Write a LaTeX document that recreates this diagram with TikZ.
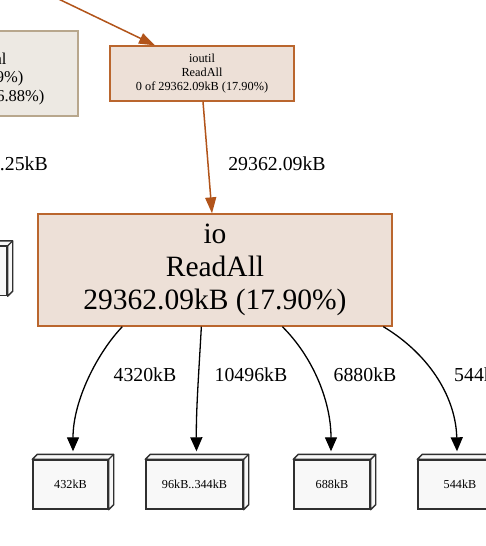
\documentclass[tikz,border=0pt]{standalone}
\usepackage{fontspec}
\setmainfont{Liberation Serif}
\usetikzlibrary{arrows.meta, positioning}
\definecolor{hot}{HTML}{B2541A}
\definecolor{hotline}{HTML}{BA662E}
\definecolor{hotfill}{HTML}{EDE0D7}
\definecolor{coolfill}{HTML}{EDE9E3}
\definecolor{coolline}{HTML}{B8A78D}
\definecolor{cube}{HTML}{303030}
\definecolor{cubefill}{HTML}{F8F8F8}

\begin{document}
\begin{tikzpicture}[
    x=1pt, y=-1pt,
    fnode/.style={draw=hotline, fill=hotfill, line width=1.3pt, align=center,
                  inner sep=0pt},
    cnode/.style={draw=cube, fill=cubefill, line width=1.4pt, inner sep=0pt,
                  minimum height=49pt, font=\fontsize{12.2}{13}\selectfont},
    lab/.style={font=\fontsize{19.8}{21}\selectfont, inner sep=0pt},
    hotedge/.style={-{Triangle[length=16pt,width=11pt]}, line width=1.5pt, hot},
    coldedge/.style={-{Triangle[length=14pt,width=12pt]}, line width=1.3pt, black},
]
\useasboundingbox (0,0) rectangle (486,546);
\clip (0,0) rectangle (486,546);
\fill[white] (0,0) rectangle (486,546);

% caller, cut off at the left
\node[draw=coolline, fill=coolfill, line width=1.3pt, minimum width=130pt,
      minimum height=85pt] (caller) at (13,73.5) {};
\node[anchor=east, font=\fontsize{16.5}{19}\selectfont] (cl1) at (10,59) {al};
\node[anchor=east, font=\fontsize{16.5}{19}\selectfont] (cl2) at (27,79) {9\%)};
\node[anchor=east, font=\fontsize{16.5}{19}\selectfont] (cl3) at (48,98) {(6.88\%)};
\node[lab, anchor=east] (l0) at (48,164) {.25kB};

% functions
\node[fnode, minimum width=184pt, minimum height=55pt,
      font=\fontsize{12.3}{14}\selectfont] (ioutil) at (202,73.5)
      {ioutil\\ReadAll\\0 of 29362.09kB (17.90\%)};
\node[fnode, minimum width=354pt, minimum height=112pt,
      font=\fontsize{29.5}{33}\selectfont] (io) at (215,270)
      {io\\ReadAll\\29362.09kB (17.90\%)};

% allocation sizes
\node[cnode, minimum width=75pt] (b0) at (-30.5,271) {};
\node[cnode, minimum width=75pt] (b1) at (70.5,484.5) {432kB};
\node[cnode, minimum width=97pt] (b2) at (194.5,484.5) {96kB..344kB};
\node[cnode, minimum width=76pt] (b3) at (332,484.5) {688kB};
\node[cnode, minimum width=84pt] (b4) at (460,484.5) {544kB};

\foreach \b in {b0,b1,b2,b3,b4} {
  \draw[cube, fill=cubefill, line width=1.4pt, line join=round]
    (\b.north west) -- ++(5pt,5pt) -- ([shift={(5pt,5pt)}]\b.north east)
    -- ([shift={(5pt,5pt)}]\b.south east) -- (\b.south east)
    -- (\b.north east) -- cycle;
  \draw[cube, line width=1.4pt] (\b.north east) -- ++(5pt,5pt);
}

% edges
\coordinate (src) at (19,-20);
\draw[hotedge] (src) -- ([xshift=-47pt]ioutil.north);
\draw[hotedge] ([xshift=1pt]ioutil.south) -- ([xshift=-3pt]io.north);
\node[lab] (l1) at (277,164) {29362.09kB};

\draw[coldedge] ([xshift=85pt]io.south west) .. controls (98,352) and (73,400)
  .. ([xshift=2.5pt,yshift=8pt]b1.north);
\draw[coldedge] ([xshift=164pt]io.south west) .. controls (199,370) and (196,410)
  .. ([xshift=2pt,yshift=8pt]b2.north);
\draw[coldedge] ([xshift=245pt]io.south west) .. controls (312,356) and (331,400)
  .. ([xshift=-1pt,yshift=8pt]b3.north);
\draw[coldedge] ([xshift=346pt]io.south west) .. controls (432,356) and (456,400)
  .. ([xshift=-3pt,yshift=8pt]b4.north);

\node[lab] (l2) at (145,375) {4320kB};
\node[lab] (l3) at (251,375) {10496kB};
\node[lab] (l4) at (365,375) {6880kB};
\node[lab, anchor=west] (l5) at (454,375) {544kB};
\end{tikzpicture}
\end{document}
